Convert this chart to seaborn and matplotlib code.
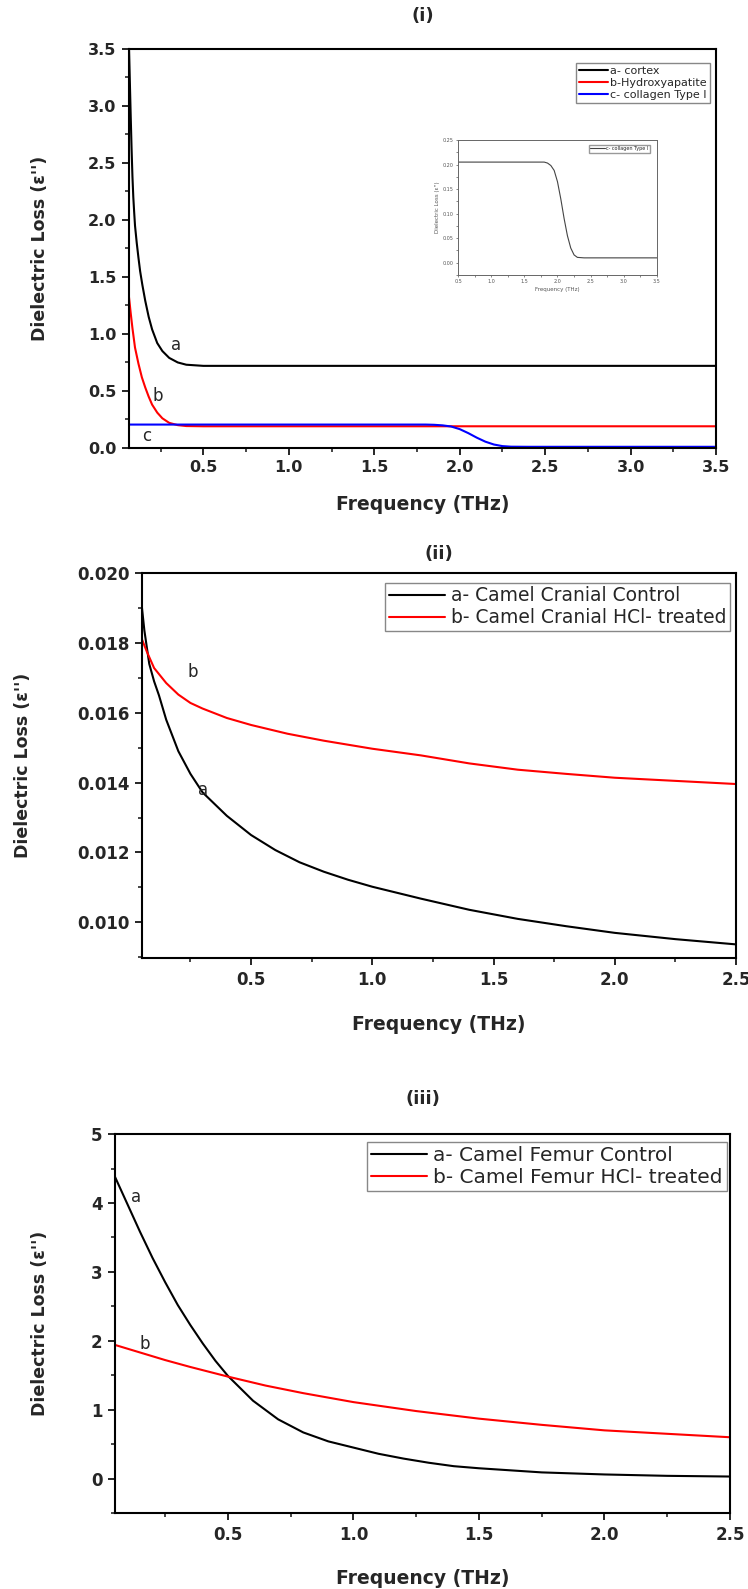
# -*- coding: utf-8 -*-
"""Dielectric loss vs frequency, three stacked panels"""

import numpy as np
import pandas as pd
import matplotlib
matplotlib.use('Agg')
import matplotlib.pyplot as plt
import seaborn as sns
from matplotlib.ticker import AutoMinorLocator, FormatStrFormatter, MultipleLocator, FixedLocator

# Panel (i) - cortex / hydroxyapatite / collagen
freq_i_a = [0.065, 0.07, 0.075, 0.08, 0.085, 0.09, 0.095, 0.10, 0.11, 0.12, 0.13, 0.143, 0.16, 0.18,
            0.20, 0.23, 0.26, 0.30, 0.35, 0.40, 0.50, 1.0, 2.0, 3.5]
loss_i_a = [3.50, 3.20, 2.90, 2.62, 2.38, 2.20, 2.07, 1.95, 1.80, 1.67, 1.55, 1.43, 1.29, 1.15,
            1.04, 0.92, 0.85, 0.79, 0.75, 0.73, 0.72, 0.72, 0.72, 0.72]
freq_i_b = [0.065, 0.075, 0.085, 0.10, 0.12, 0.14, 0.16, 0.18, 0.20, 0.23, 0.26, 0.30, 0.35, 0.40, 0.50, 1.0, 3.5]
loss_i_b = [1.32, 1.18, 1.05, 0.88, 0.74, 0.62, 0.53, 0.45, 0.38, 0.31, 0.26, 0.22, 0.20, 0.192, 0.19, 0.19, 0.19]
freq_i_c = [0.065, 1.0, 1.80, 1.85, 1.90, 1.95, 2.00, 2.05, 2.10, 2.15, 2.20, 2.25, 2.30, 2.40, 3.5]
loss_i_c = [0.205, 0.205, 0.205, 0.203, 0.198, 0.188, 0.165, 0.13, 0.09, 0.055, 0.03, 0.016, 0.011, 0.01, 0.01]
labels_i = ['a- cortex', 'b-Hydroxyapatite', 'c- collagen Type I']

# Panel (ii) - camel cranial
freq_ii_a = [0.05, 0.06, 0.08, 0.10, 0.12, 0.15, 0.20, 0.25, 0.30, 0.40, 0.50, 0.60, 0.70, 0.80,
             0.90, 1.0, 1.2, 1.4, 1.6, 1.8, 2.0, 2.25, 2.5]
loss_ii_a = [0.0190, 0.01835, 0.0174, 0.0169, 0.01650, 0.0158, 0.0149, 0.01425, 0.01372, 0.01305,
             0.01250, 0.01207, 0.01172, 0.01145, 0.01122, 0.01102, 0.01068, 0.01036, 0.01010,
             0.00989, 0.00970, 0.00952, 0.00937]
freq_ii_b = [0.05, 0.07, 0.10, 0.15, 0.20, 0.25, 0.30, 0.40, 0.50, 0.65, 0.80, 1.0, 1.2, 1.4, 1.6,
             1.8, 2.0, 2.25, 2.5]
loss_ii_b = [0.0181, 0.01775, 0.01728, 0.01685, 0.01652, 0.01628, 0.01612, 0.01585, 0.01565,
             0.0154, 0.0152, 0.01497, 0.01478, 0.01455, 0.01437, 0.01425, 0.01414, 0.01405, 0.01396]
labels_ii = ['a- Camel Cranial Control', 'b- Camel Cranial HCl- treated']

# Panel (iii) - camel femur
freq_iii_a = [0.05, 0.10, 0.15, 0.20, 0.25, 0.30, 0.35, 0.40, 0.45, 0.50, 0.60, 0.70, 0.80, 0.90,
              1.0, 1.1, 1.2, 1.3, 1.4, 1.5, 1.75, 2.0, 2.25, 2.5]
loss_iii_a = [4.38, 3.98, 3.58, 3.20, 2.85, 2.52, 2.23, 1.96, 1.71, 1.49, 1.13, 0.86, 0.67, 0.54,
              0.45, 0.36, 0.29, 0.23, 0.18, 0.15, 0.09, 0.06, 0.04, 0.03]
freq_iii_b = [0.05, 0.15, 0.25, 0.35, 0.50, 0.65, 0.80, 1.0, 1.25, 1.5, 1.75, 2.0, 2.25, 2.5]
loss_iii_b = [1.94, 1.83, 1.72, 1.62, 1.48, 1.35, 1.24, 1.11, 0.98, 0.87, 0.78, 0.70, 0.65, 0.60]
labels_iii = ['a- Camel Femur Control', 'b- Camel Femur HCl- treated']

sns.set_style('ticks')
plt.rcParams['font.family'] = ['DejaVu Sans']
plt.rcParams['axes.linewidth'] = 1.5
plt.rcParams['xtick.major.width'] = 1.4
plt.rcParams['ytick.major.width'] = 1.4
plt.rcParams['xtick.minor.width'] = 1.2
plt.rcParams['ytick.minor.width'] = 1.2
plt.rcParams['xtick.major.size'] = 5
plt.rcParams['ytick.major.size'] = 5
plt.rcParams['xtick.minor.size'] = 3
plt.rcParams['ytick.minor.size'] = 3

ylab = "Dielectric Loss (\u03b5'')"
xlab = 'Frequency (THz)'

fig = plt.figure(figsize=(7.48, 15.89), dpi=100)
ax1 = fig.add_axes([0.1725, 0.7181, 0.7848, 0.2511])
ax2 = fig.add_axes([0.1898, 0.3971, 0.7941, 0.2423])
ax3 = fig.add_axes([0.1537, 0.0478, 0.8222, 0.2385])


def style_axis(ax, xlim, ylim, ymajor, yfmt, ylab_x, xlab_y, tsize):
    ax.set_xlim(*xlim)
    ax.set_ylim(*ylim)
    ax.xaxis.set_major_locator(FixedLocator(np.arange(0.5, xlim[1] + 0.01, 0.5)))
    ax.xaxis.set_minor_locator(FixedLocator(np.arange(0.25, xlim[1] + 0.01, 0.5)))
    ax.yaxis.set_major_locator(MultipleLocator(ymajor))
    ax.yaxis.set_minor_locator(AutoMinorLocator(2))
    ax.xaxis.set_major_formatter(FormatStrFormatter('%.1f'))
    ax.yaxis.set_major_formatter(FormatStrFormatter(yfmt))
    ax.tick_params(which='both', direction='out', top=False, right=False)
    ax.tick_params(which='major', labelsize=tsize, pad=4)
    for lab in ax.get_xticklabels() + ax.get_yticklabels():
        lab.set_fontweight('bold')
    for s in ax.spines.values():
        s.set_visible(True)
        s.set_color('black')
    ax.set_xlabel(xlab, fontsize=13.5, fontweight='bold', va='top')
    ax.xaxis.set_label_coords(0.5, xlab_y)
    ax.set_ylabel(ylab, fontsize=12.5, fontweight='bold')
    ax.yaxis.set_label_coords(ylab_x, 0.5)


leg_kw = dict(loc='upper right', borderaxespad=0, fancybox=False, edgecolor='#888888',
              framealpha=1, labelspacing=0.15)

# ---- panel (i)
sns.lineplot(x=freq_i_a, y=loss_i_a, color='black', lw=1.5, label=labels_i[0], ax=ax1, sort=False)
sns.lineplot(x=freq_i_b, y=loss_i_b, color='#ff0000', lw=1.5, label=labels_i[1], ax=ax1, sort=False)
sns.lineplot(x=freq_i_c, y=loss_i_c, color='#0000ff', lw=1.5, label=labels_i[2], ax=ax1, sort=False)
style_axis(ax1, (0.065, 3.5), (0, 3.5), 0.5, '%.1f', -0.136, -0.118, 11.5)
ax1.set_title('(i)', fontsize=13, fontweight='bold', pad=20)
ax1.legend(bbox_to_anchor=(0.99, 0.965), fontsize=8, handlelength=2.6,
           borderpad=0.3, handletextpad=0.2, **leg_kw)
ax1.text(0.343, 0.90, 'a', fontsize=12, ha='center', va='center')
ax1.text(0.232, 0.455, 'b', fontsize=12, ha='center', va='center')
ax1.text(0.167, 0.105, 'c', fontsize=12, ha='center', va='center')

# inset with the collagen curve
axin = fig.add_axes([0.6123, 0.8269, 0.266, 0.085])
sns.lineplot(x=freq_i_c, y=loss_i_c, color='#444444', lw=0.8, label='c- collagen Type I', ax=axin, sort=False)
axin.set_xlim(0.5, 3.5)
axin.set_ylim(-0.025, 0.25)
axin.xaxis.set_major_locator(MultipleLocator(0.5))
axin.xaxis.set_minor_locator(AutoMinorLocator(2))
axin.yaxis.set_major_locator(MultipleLocator(0.05))
axin.yaxis.set_minor_locator(AutoMinorLocator(2))
axin.yaxis.set_major_formatter(FormatStrFormatter('%.2f'))
axin.tick_params(which='both', labelsize=3.5, width=0.5, length=1.5, pad=1.5, colors='#555555')
for s in axin.spines.values():
    s.set_visible(True)
    s.set_linewidth(0.7)
    s.set_color('#666666')
axin.set_xlabel(xlab, fontsize=4, color='#555555', labelpad=2)
axin.set_ylabel(ylab, fontsize=4, color='#555555', labelpad=2)
axin.legend(loc='upper right', bbox_to_anchor=(0.965, 0.965), borderaxespad=0, fontsize=3.5,
            fancybox=False, edgecolor='#999999', framealpha=1, handlelength=3,
            borderpad=0.3, handletextpad=0.3)

# ---- panel (ii)
sns.lineplot(x=freq_ii_a, y=loss_ii_a, color='black', lw=1.5, label=labels_ii[0], ax=ax2, sort=False)
sns.lineplot(x=freq_ii_b, y=loss_ii_b, color='#ff0000', lw=1.5, label=labels_ii[1], ax=ax2, sort=False)
style_axis(ax2, (0.05, 2.5), (0.00898, 0.020), 0.002, '%.3f', -0.185, -0.148, 12)
ax2.set_title('(ii)', fontsize=13, fontweight='bold', pad=10)
ax2.legend(bbox_to_anchor=(0.99, 0.975), fontsize=13.5, handlelength=3.0,
           borderpad=0.2, handletextpad=0.3, **leg_kw)
ax2.text(0.26, 0.01717, 'b', fontsize=12, ha='center', va='center')
ax2.text(0.30, 0.01378, 'a', fontsize=12, ha='center', va='center')

# ---- panel (iii)
sns.lineplot(x=freq_iii_a, y=loss_iii_a, color='black', lw=1.5, label=labels_iii[0], ax=ax3, sort=False)
sns.lineplot(x=freq_iii_b, y=loss_iii_b, color='#ff0000', lw=1.5, label=labels_iii[1], ax=ax3, sort=False)
style_axis(ax3, (0.05, 2.5), (-0.5, 5), 1, '%d', -0.107, -0.148, 12)
ax3.set_title('(iii)', fontsize=13, fontweight='bold', pad=22)
ax3.legend(bbox_to_anchor=(0.995, 0.98), fontsize=14.5, handlelength=2.8,
           borderpad=0.2, handletextpad=0.3, **leg_kw)
ax3.text(0.135, 4.09, 'a', fontsize=12, ha='center', va='center')
ax3.text(0.17, 1.95, 'b', fontsize=12, ha='center', va='center')

fig.savefig('out.png', dpi=100, facecolor='white')
